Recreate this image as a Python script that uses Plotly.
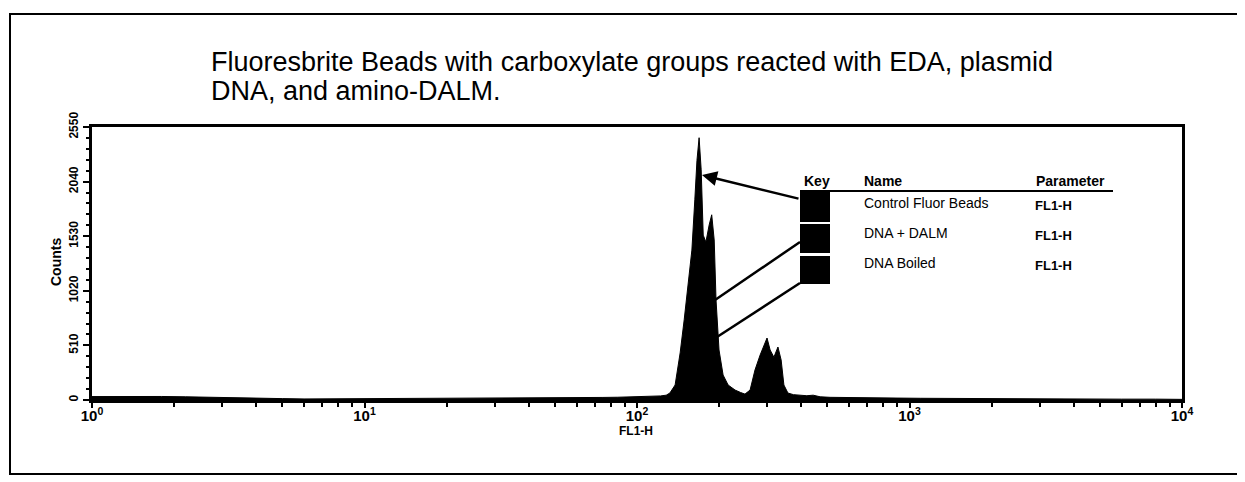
import plotly.graph_objects as go

# FL1-H channel (log scale) and event counts
fl1_h = [1.0, 1.2, 1.5, 1.8, 2.2, 2.7, 3.3, 4.0, 5.0, 6.0, 7.5, 9.0, 11, 14, 18, 22, 28,
         35, 45, 55, 65, 75, 85, 95, 105, 115, 122, 128, 132, 138, 144, 149, 154, 159,
         163, 166, 169, 172, 175, 179, 184, 188, 192, 195, 200, 207, 216, 229, 240, 249,
         260, 271, 283, 292, 300, 308, 318, 329, 338, 346, 358, 375, 396, 420, 443, 470,
         511, 580, 716, 900, 1100, 1409, 1800, 2400, 3281, 4500, 6000, 8000, 10000]
counts = [32, 34, 30, 33, 30, 24, 20, 16, 13, 10, 11, 9, 9, 10, 11, 12, 14,
          15, 18, 20, 22, 24, 26, 28, 30, 33, 38, 45, 65, 140, 440, 750, 1055, 1400,
          1870, 2240, 2450, 2150, 1540, 1475, 1635, 1730, 1495, 935, 467, 233, 140, 93, 70, 55,
          93, 280, 420, 514, 579, 467, 400, 495, 374, 140, 65, 50, 47, 40, 45, 30,
          25, 22, 20, 18, 16, 14, 12, 12, 10, 10, 8, 8, 6]

y_ticks = [0, 510, 1020, 1530, 2040, 2550]
x_ticks = [1, 10, 100, 1000, 10000]
x_tick_text = ["10<sup>0</sup>", "10<sup>1</sup>", "10<sup>2</sup>", "10<sup>3</sup>", "10<sup>4</sup>"]
x_minor = [m * d for d in [1, 10, 100, 1000] for m in range(2, 10)]

key_names = ["Control Fluor Beads", "DNA + DALM", "DNA Boiled"]
key_params = ["FL1-H", "FL1-H", "FL1-H"]

title_lines = ["Fluoresbrite Beads with carboxylate groups reacted with EDA, plasmid",
               "DNA, and amino-DALM."]

# page geometry (the page body has an 8px margin)
PAGE_W, PAGE_H, OFF = 1245, 482, 8
L, R, T, B = 92, 1182, 127, 400
FONT = "Liberation Sans, Arial, sans-serif"


def px(x):
    return (x - L) / (R - L)


def py(y):
    return (B - y) / (B - T)


fig = go.Figure()
fig.add_trace(go.Scatter(x=fl1_h, y=counts, mode="lines", fill="tozeroy",
                         line=dict(color="black", width=1), fillcolor="black",
                         showlegend=False))

fig.update_xaxes(type="log", range=[0, 4], tickvals=x_ticks, ticktext=x_tick_text,
                 ticks="outside", ticklen=5, tickwidth=2, tickcolor="black",
                 ticklabelstandoff=-5,
                 showline=True, linecolor="black", linewidth=3, mirror=True,
                 showgrid=False, zeroline=False,
                 tickfont=dict(family=FONT, size=15, color="black", weight="bold"),
                 minor=dict(tickvals=x_minor, ticks="outside", ticklen=4, tickwidth=2,
                            tickcolor="black", showgrid=False))
fig.update_yaxes(range=[0, 2550], tickvals=y_ticks, ticks="outside", ticklen=6,
                 tickwidth=2, tickcolor="black", tickangle=-90,
                 showline=True, linecolor="black", linewidth=3, mirror=True,
                 showgrid=False, zeroline=False,
                 tickfont=dict(family=FONT, size=12, color="black", weight="bold"),
                 minor=dict(dtick=102, ticks="outside", ticklen=3, tickwidth=2,
                            tickcolor="black", showgrid=False))

shapes = []
# outer frame
shapes.append(dict(type="rect", xref="paper", yref="paper",
                   x0=px(10), x1=px(1252), y0=py(474), y1=py(14),
                   line=dict(color="black", width=2)))
# key header rule
shapes.append(dict(type="line", xref="paper", yref="paper",
                   x0=px(800), x1=px(1113), y0=py(191), y1=py(191),
                   line=dict(color="black", width=2)))
# key swatches
for y0, y1 in [(192, 222), (224, 253), (256, 284)]:
    shapes.append(dict(type="rect", xref="paper", yref="paper",
                       x0=px(800), x1=px(830), y0=py(y1), y1=py(y0),
                       fillcolor="black", line=dict(color="black", width=0)))
# pointer lines from swatches
for (x0, y0), (x1, y1) in [((800, 242), (715, 300)), ((800, 283), (717, 337))]:
    shapes.append(dict(type="line", xref="paper", yref="paper",
                       x0=px(x0), y0=py(y0), x1=px(x1), y1=py(y1),
                       line=dict(color="black", width=2.5)))
fig.update_layout(shapes=shapes)

ann = []
# title
for i, line in enumerate(title_lines):
    ann.append(dict(text=line, xref="paper", yref="paper", x=px(209), y=py(62 + 29 * i),
                    xanchor="left", yanchor="middle", showarrow=False,
                    font=dict(family=FONT, size=27, color="black")))
# arrow to the tall peak
ann.append(dict(text="", xref="paper", yref="paper", x=px(702), y=py(175),
                ax=98, ay=24, axref="pixel", ayref="pixel", showarrow=True,
                arrowhead=2, arrowsize=1.2, arrowwidth=2.5, arrowcolor="black"))
# key headers
for txt, x in [("Key", 802), ("Name", 862), ("Parameter", 1034)]:
    ann.append(dict(text=txt, xref="paper", yref="paper", x=px(x), y=py(181),
                    xanchor="left", yanchor="middle", showarrow=False,
                    font=dict(family=FONT, size=14, color="black", weight="bold")))
for i, (name, par) in enumerate(zip(key_names, key_params)):
    ann.append(dict(text=name, xref="paper", yref="paper", x=px(862), y=py(203 + 30 * i),
                    xanchor="left", yanchor="middle", showarrow=False,
                    font=dict(family=FONT, size=14, color="black")))
    ann.append(dict(text=par, xref="paper", yref="paper", x=px(1033), y=py(205 + 30 * i),
                    xanchor="left", yanchor="middle", showarrow=False,
                    font=dict(family=FONT, size=13, color="black", weight="bold")))
# axis titles
ann.append(dict(text="Counts", xref="paper", yref="paper", x=px(56), y=py(262),
                xanchor="center", yanchor="middle", textangle=-90, showarrow=False,
                font=dict(family=FONT, size=14, color="black", weight="bold")))
ann.append(dict(text="FL1-H", xref="paper", yref="paper", x=px(636), y=py(431),
                xanchor="center", yanchor="middle", showarrow=False,
                font=dict(family=FONT, size=12, color="black", weight="bold")))
fig.update_layout(annotations=ann)

fig.update_layout(width=PAGE_W - OFF, height=PAGE_H - OFF,
                  margin=dict(l=L - OFF, r=PAGE_W - R, t=T - OFF, b=PAGE_H - B),
                  paper_bgcolor="white", plot_bgcolor="white", showlegend=False)
fig.write_html("out.html")
